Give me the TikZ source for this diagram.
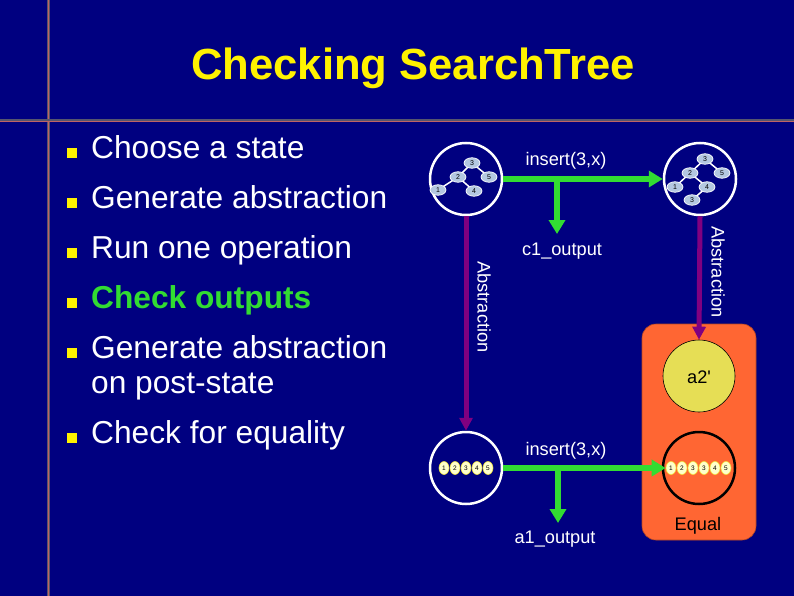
\documentclass[tikz,border=0pt]{standalone}
\usepackage{fontspec}
\setmainfont{Liberation Sans}
\usetikzlibrary{arrows.meta,shapes.geometric}
\definecolor{navy}{RGB}{0,0,128}
\definecolor{grn}{RGB}{50,220,50}
\definecolor{purp}{RGB}{128,0,128}
\definecolor{orng}{RGB}{255,102,51}
\definecolor{ylw}{RGB}{230,222,85}
\definecolor{tnode}{RGB}{180,200,225}
\definecolor{lnode}{RGB}{255,255,205}
\definecolor{lnodeb}{RGB}{240,230,60}
\definecolor{rulegray}{RGB}{85,85,110}
\definecolor{rulered}{RGB}{190,100,100}
\begin{document}
\begin{tikzpicture}[x=1pt,y=-1pt,
  bodytext/.style={anchor=base west, inner sep=0, font=\fontsize{31.7}{34}\selectfont, text=white},
  sq/.style={fill=yellow, minimum size=9.5pt, inner sep=0, anchor=south west},
  small/.style={font=\fontsize{18.2}{20}\selectfont, inner sep=0, anchor=base, text=white},
  wcirc/.style={circle, draw=white, line width=2.5pt, minimum size=72pt, inner sep=0},
  bcirc/.style={circle, draw=black, line width=2.5pt, minimum size=72pt, inner sep=0},
  ycirc/.style={circle, draw=black, line width=0.6pt, fill=ylw, minimum size=72pt, inner sep=0},
  tn/.style={ellipse, draw=white, line width=0.7pt, fill=tnode, minimum width=16pt, minimum height=10.5pt, inner sep=0, font=\fontsize{7}{7}\selectfont},
  ln/.style={ellipse, draw=lnodeb, line width=0.6pt, fill=lnode, minimum width=10pt, minimum height=13pt, inner sep=0, font=\fontsize{6.5}{6.5}\selectfont},
  tedge/.style={draw=white, line width=1.5pt},
  garrow/.style={draw=grn, line width=6pt, -{Triangle[width=16pt,length=14pt]}},
  parrow/.style={draw=purp, line width=5pt, -{Triangle[width=13pt,length=13pt]}},
]
\useasboundingbox (0,0) rectangle (794,596);
\fill[navy] (0,0) rectangle (794,596);
% rules
\draw[rulegray, line width=3pt] (48,0) -- (48,596);
\draw[rulered, line width=0.7pt] (48,0) -- (48,596);
\draw[rulegray, line width=3pt] (0,121) -- (794,121);
\draw[rulered, line width=0.7pt] (0,121) -- (794,121);
% title
\node[anchor=base, inner sep=0, text=yellow, font=\fontsize{43.6}{46}\bfseries] (title) at (413,80) {Checking SearchTree};
% bullets
\node[sq] (s1) at (67,158) {}; \node[bodytext] (b1) at (91,158) {Choose a state};
\node[sq] (s2) at (67,208) {}; \node[bodytext] (b2) at (91,208) {Generate abstraction};
\node[sq] (s3) at (67,258) {}; \node[bodytext] (b3) at (91,258) {Run one operation};
\node[sq] (s4) at (67,308) {}; \node[bodytext, text=grn, font=\fontsize{31.7}{34}\bfseries] (b4) at (91,308) {Check outputs};
\node[sq] (s5) at (67,358) {}; \node[bodytext] (b5) at (91,358) {Generate abstraction};
\node[bodytext] (b5b) at (91,393) {on post-state};
\node[sq] (s6) at (67,443) {}; \node[bodytext] (b6) at (91,443) {Check for equality};
% orange box
\draw[orng!70!black, line width=0.6pt, fill=orng, rounded corners=14pt] (642,324) rectangle (756,540);
% circles
\node[wcirc] (t1) at (466,179) {};
\node[wcirc] (t2) at (700,179) {};
\node[wcirc] (l1) at (466,468) {};
\node[bcirc] (l2) at (699,468) {};
\node[ycirc] (a2) at (699,376) {};
\node[small, text=black] (a2t) at (699,383) {a2\textquotesingle};
\node[small, text=black] (eq) at (698,530) {Equal};
% tree 1
\coordinate (p3) at (472,163);
\coordinate (p2) at (458,177);
\coordinate (p5) at (489,177);
\coordinate (p1) at (438,190);
\coordinate (p4) at (474,191);
\draw[tedge] (p3) -- (p2); \draw[tedge] (p3) -- (p5);
\draw[tedge] (p2) -- (p1); \draw[tedge] (p2) -- (p4);
\node[tn] (n3) at (p3) {3}; \node[tn] (n2) at (p2) {2}; \node[tn] (n5) at (p5) {5};
\node[tn] (n1) at (p1) {1}; \node[tn] (n4) at (p4) {4};
% tree 2
\coordinate (q3) at (705,159);
\coordinate (q2) at (690,173);
\coordinate (q5) at (722,173);
\coordinate (q1) at (675,187);
\coordinate (q4) at (707,187);
\coordinate (q6) at (692,200);
\draw[tedge] (q3) -- (q2); \draw[tedge] (q3) -- (q5);
\draw[tedge] (q2) -- (q1); \draw[tedge] (q2) -- (q4);
\draw[tedge] (q4) -- (q6);
\node[tn] (m3) at (q3) {3}; \node[tn] (m2) at (q2) {2}; \node[tn] (m5) at (q5) {5};
\node[tn] (m1) at (q1) {1}; \node[tn] (m4) at (q4) {4}; \node[tn] (m6) at (q6) {3};
% lists
\foreach \d [count=\i] in {1,2,3,4,5} {
  \node[ln] (la\i) at ({433+11*\i},468) {\d};
}
\foreach \d [count=\i] in {1,2,3,3,4,5} {
  \node[ln] (lb\i) at ({660+11*\i},468) {\d};
}
% arrows
\draw[garrow] (t1.east) -- (t2.west);
\coordinate (br1) at (557,179);
\coordinate (c1tip) at (557,234);
\draw[garrow] (br1) -- (c1tip);
\node[small] (ins1) at (566,166) {insert(3,x)};
\node[small] (c1) at (562,255) {c1\_output};
\draw[garrow] (l1.east) -- (lb1.west);
\coordinate (br2) at (558,468);
\coordinate (a1tip) at (558,523);
\draw[garrow] (br2) -- (a1tip);
\node[small] (ins2) at (566,455) {insert(3,x)};
\node[small] (a1) at (555,543) {a1\_output};
\draw[parrow] (t1.south) -- (l1.north);
\draw[parrow] (t2.south) -- (a2.north);
\node[small, rotate=-90, anchor=center] (ab1) at (484,307) {Abstraction};
\node[small, rotate=-90, anchor=center] (ab2) at (718,272) {Abstraction};
\end{tikzpicture}
\end{document}
